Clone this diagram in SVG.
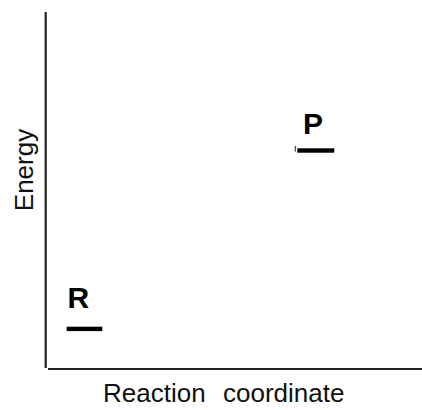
<svg xmlns="http://www.w3.org/2000/svg" width="422" height="410" viewBox="0 0 422 410">
  <style>
    .axis { stroke: #222; stroke-width: 2.2; fill: none; }
    .level { fill: #000; }
    .state { font-family: "Liberation Sans", Arial, sans-serif; font-weight: bold; font-size: 30px; fill: #000; }
    .axis-label { font-family: "Liberation Sans", Arial, sans-serif; font-size: 26px; fill: #111; }
  </style>
  <rect width="422" height="410" fill="#fff"/>

  <!-- axes -->
  <g id="axes">
    <line class="axis" x1="45.7" y1="12" x2="45.7" y2="368"/>
    <line class="axis" x1="48" y1="369" x2="422" y2="369"/>
    <text class="axis-label" font-size="27" text-anchor="middle" transform="translate(33,170) rotate(-90)">Energy</text>
    <text class="axis-label" y="402"><tspan x="103">Reaction</tspan><tspan x="223">coordinate</tspan></text>
  </g>

  <!-- reactant level -->
  <g id="R">
    <rect class="level" x="66.7" y="326.7" width="35.6" height="4.4"/>
    <text class="state" x="67.5" y="308.3">R</text>
  </g>

  <!-- product level -->
  <g id="P">
    <rect x="294.7" y="145.8" width="1.3" height="5.8" fill="#555"/>
    <rect class="level" x="297.3" y="148.3" width="37" height="4.4"/>
    <text class="state" x="303" y="134.3">P</text>
  </g>

  <g id="connectors"></g>
</svg>
